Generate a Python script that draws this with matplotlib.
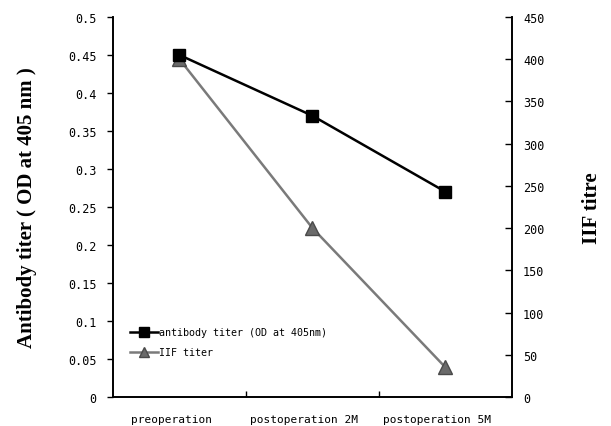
import matplotlib
matplotlib.use("Agg")
import matplotlib.pyplot as plt
import matplotlib.transforms as mtransforms
from matplotlib.lines import Line2D

categorias = ["preoperation", "postoperation 2M", "postoperation 5M"]
anticorpo_od = [0.45, 0.37, 0.27]
iif_titulo = [400, 200, 35]

fonte_tick = "DejaVu Sans Mono"
fonte_rotulo = "Liberation Serif"

fig = plt.figure(figsize=(6.11, 4.27), dpi=100)
ax = fig.add_axes([113 / 611, 1 - 398 / 427, 399 / 611, 380 / 427])
ax2 = ax.twinx()

x = [i + 0.5 for i in range(len(categorias))]

ax2.plot(x, iif_titulo, color="#7a7a7a", linewidth=1.8, marker="^", markersize=10,
         markerfacecolor="#6a6a6a", markeredgecolor="#4a4a4a", zorder=3)
ax.plot(x, anticorpo_od, color="black", linewidth=1.8, marker="s", markersize=9,
        markerfacecolor="black", zorder=4)
ax.set_zorder(ax2.get_zorder() + 1)
ax.patch.set_visible(False)

ax.set_xlim(0, 3)
ax.set_ylim(0, 0.5)
ax2.set_ylim(0, 450)

ax.set_yticks([i * 0.05 for i in range(11)])
ax.set_yticklabels(["0", "0.05", "0.1", "0.15", "0.2", "0.25", "0.3", "0.35", "0.4", "0.45", "0.5"])
ax2.set_yticks(range(0, 451, 50))

ax.set_xticks([1, 2])
ax.set_xticklabels([])
ax.set_xticks(x, minor=True)
ax.set_xticklabels(categorias, minor=True, fontfamily=fonte_tick, fontsize=8)
ax.tick_params(axis="x", which="major", direction="in", length=4, width=1)
ax.tick_params(axis="x", which="minor", length=0, pad=12)
ax.tick_params(axis="y", direction="out", length=4, width=1, pad=8)
ax2.tick_params(axis="y", direction="in", length=5, width=1, pad=8)

# rotulos do eixo x um pouco deslocados para a esquerda, como no original
desloc = mtransforms.ScaledTranslation(-8 / 100, 0, fig.dpi_scale_trans)
for lab in ax.get_xticklabels(minor=True):
    lab.set_transform(lab.get_transform() + desloc)

for lab in ax.get_yticklabels() + ax2.get_yticklabels():
    lab.set_fontfamily(fonte_tick)
    lab.set_fontsize(8.5)

for a in (ax, ax2):
    a.spines["top"].set_visible(False)
    for s in ("left", "right", "bottom"):
        a.spines[s].set_linewidth(1.2)

ax.set_ylabel("Antibody titer ( OD at 405 nm )", fontfamily=fonte_rotulo,
              fontweight="bold", fontsize=15, labelpad=22)
ax2.set_ylabel("IIF titre", fontfamily=fonte_rotulo, fontweight="bold",
               fontsize=15, labelpad=27)

legenda = [
    Line2D([], [], color="black", linewidth=1.8, marker="s", markersize=7,
           markerfacecolor="black", label="antibody titer (OD at 405nm)"),
    Line2D([], [], color="#7a7a7a", linewidth=1.8, marker="^", markersize=7,
           markerfacecolor="#6a6a6a", markeredgecolor="#4a4a4a", label="IIF titer"),
]
ax.legend(handles=legenda, loc="lower left", bbox_to_anchor=(0.033, 0.094),
          frameon=False, prop={"family": fonte_tick, "size": 7.2},
          handlelength=2.8, handletextpad=0.1, borderaxespad=0, labelspacing=1.0)

fig.savefig("out.png", dpi=100)
